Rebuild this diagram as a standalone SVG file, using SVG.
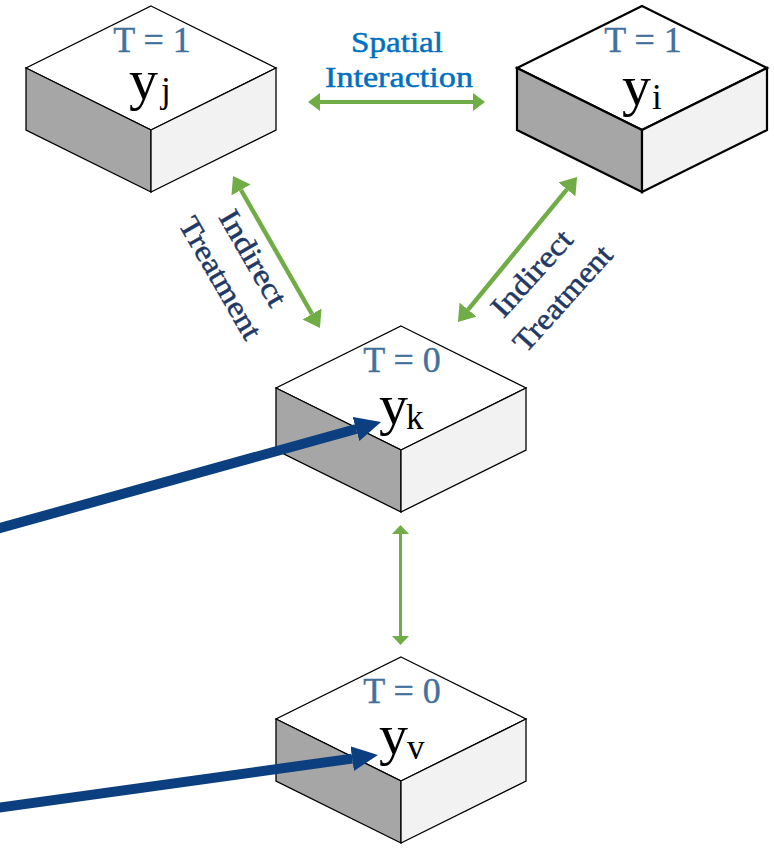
<svg xmlns="http://www.w3.org/2000/svg" xmlns:xlink="http://www.w3.org/1999/xlink" width="774" height="848" viewBox="0 0 774 848">
<style>
.t{font-family:"Liberation Serif","Times New Roman",serif;font-size:36px;fill:#41719C;stroke:#41719C;stroke-width:0.4;text-anchor:middle}
.y{font-family:"Liberation Serif","Times New Roman",serif;font-size:58px;fill:#000}
.s{font-size:35px}
.lab{font-family:"Liberation Serif","Times New Roman",serif;font-size:30px;fill:#0070C0;stroke:#0070C0;stroke-width:0.5;text-anchor:middle}
.ind{font-family:"Liberation Serif","Times New Roman",serif;font-size:30px;fill:#1F3864;stroke:#1F3864;stroke-width:0.5;text-anchor:middle}
.g{stroke:#70AD47;fill:none}
.b{stroke:#0B3F7F;stroke-width:10;fill:none}
</style>
<defs>
<symbol id="box" overflow="visible">
<path d="M0,0 L125,62 L0,124 L-125,62 Z" fill="#FFFFFF"/>
<path d="M-125,62 L0,124 L0,186 L-125,124 Z" fill="#A6A6A6"/>
<path d="M0,124 L125,62 L125,124 L0,186 Z" fill="#F2F2F2"/>
</symbol>
<marker id="gL" viewBox="0 -11 16 22" refX="0" refY="0" markerWidth="16" markerHeight="22" markerUnits="userSpaceOnUse" orient="auto-start-reverse"><path d="M0,-11 L16,0 L0,11 Z" fill="#70AD47"/></marker>
<marker id="gM" viewBox="0 -9 12 18" refX="0" refY="0" markerWidth="12" markerHeight="18" markerUnits="userSpaceOnUse" orient="auto-start-reverse"><path d="M0,-9 L12,0 L0,9 Z" fill="#70AD47"/></marker>
<marker id="gS" viewBox="0 -8.5 9 17" refX="0" refY="0" markerWidth="9" markerHeight="17" markerUnits="userSpaceOnUse" orient="auto-start-reverse"><path d="M0,-8.5 L9,0 L0,8.5 Z" fill="#70AD47"/></marker>
<marker id="bA" viewBox="0 -12.5 26 25" refX="0" refY="0" markerWidth="26" markerHeight="25" markerUnits="userSpaceOnUse" orient="auto"><path d="M0,-12.5 L26,0 L0,12.5 Z" fill="#0B3F7F"/></marker>
</defs>

<g id="node-yj">
<use xlink:href="#box" href="#box" x="151" y="6" stroke="#000" stroke-width="1.3" stroke-linejoin="miter"/>
<text class="t" x="152" y="52">T = 1</text>
<text class="y" x="129" y="99">y<tspan class="s" x="161" y="102">j</tspan></text>
</g>

<g id="node-yi">
<use xlink:href="#box" href="#box" x="642" y="6" stroke="#000" stroke-width="2.2" stroke-linejoin="miter"/>
<text class="t" x="643" y="52">T = 1</text>
<text class="y" x="622" y="105">y<tspan class="s" x="652" y="109">i</tspan></text>
</g>

<g id="node-yk">
<use xlink:href="#box" href="#box" x="401" y="326" stroke="#000" stroke-width="1.3" stroke-linejoin="miter"/>
<text class="t" x="402" y="372">T = 0</text>
<text class="y" x="379" y="424">y<tspan class="s" x="406" y="429">k</tspan></text>
</g>

<g id="node-yv">
<use xlink:href="#box" href="#box" x="401" y="657" stroke="#000" stroke-width="1.3" stroke-linejoin="miter"/>
<text class="t" x="402" y="703">T = 0</text>
<text class="y" x="379" y="754">y<tspan class="s" x="407" y="759">v</tspan></text>
</g>

<g id="connectors">
<line class="g" x1="320" y1="102" x2="473" y2="102" stroke-width="4" marker-start="url(#gM)" marker-end="url(#gM)"/>
<line class="g" x1="241" y1="190" x2="312" y2="314" stroke-width="4.5" marker-start="url(#gL)" marker-end="url(#gL)"/>
<line class="g" x1="566.9" y1="189.4" x2="468.1" y2="309.6" stroke-width="4.5" marker-start="url(#gL)" marker-end="url(#gL)"/>
<line class="g" x1="400.5" y1="534" x2="400.5" y2="636" stroke-width="3" marker-start="url(#gS)" marker-end="url(#gS)"/>
<line class="b" x1="-10" y1="530.8" x2="356" y2="429" marker-end="url(#bA)"/>
<line class="b" x1="-10" y1="808.9" x2="352.2" y2="758.6" marker-end="url(#bA)"/>
</g>

<g id="labels">
<text class="lab" x="397" y="52" textLength="92" lengthAdjust="spacingAndGlyphs">Spatial</text>
<text class="lab" x="399" y="87" textLength="148" lengthAdjust="spacingAndGlyphs">Interaction</text>
<text class="ind" transform="translate(244.5,263) rotate(60)" x="0" y="0" textLength="106" lengthAdjust="spacingAndGlyphs">Indirect</text>
<text class="ind" transform="translate(211.8,283) rotate(60)" x="0" y="0" textLength="136" lengthAdjust="spacingAndGlyphs">Treatment</text>
<text class="ind" transform="translate(539,280) rotate(-48)" x="0" y="0" textLength="106" lengthAdjust="spacingAndGlyphs">Indirect</text>
<text class="ind" transform="translate(570,305) rotate(-48)" x="0" y="0" textLength="132" lengthAdjust="spacingAndGlyphs">Treatment</text>
</g>
</svg>
